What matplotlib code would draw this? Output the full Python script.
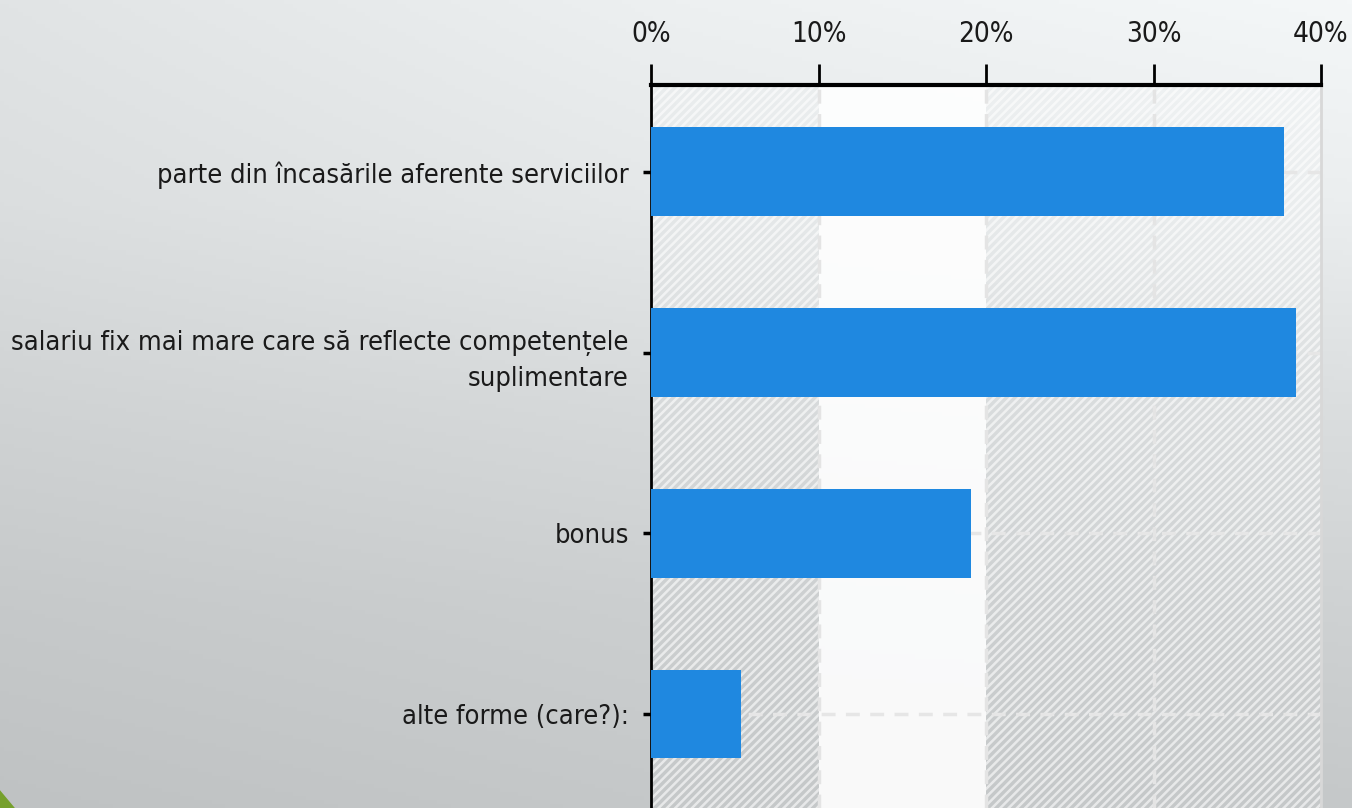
import numpy as np
import matplotlib
matplotlib.use("Agg")
import matplotlib.pyplot as plt
from matplotlib.patches import Polygon

# --- Data ---
categories = [
    "parte din încasările aferente serviciilor",
    "salariu fix mai mare care să reflecte competențele\nsuplimentare",
    "bonus",
    "alte forme (care?):",
]
values = [37.8, 38.5, 19.1, 5.4]
xticks = [0, 10, 20, 30, 40]
xtick_labels = ["0%", "10%", "20%", "30%", "40%"]

plt.rcParams["font.family"] = ["DejaVu Sans"]
plt.rcParams["font.stretch"] = "condensed"
plt.rcParams["hatch.linewidth"] = 1.8
plt.rcParams["hatch.color"] = "white"

W, H = 1352, 808
fig = plt.figure(figsize=(W / 100, H / 100), dpi=100)

# --- background gradient: gray levels sampled at a few points of the slide ---
grad_y = [0, 0.25, 0.5, 0.75, 1]
grad_x = [0, 0.5, 1]
grad_levels = [[228, 240, 247],
               [222, 232, 238],
               [211, 218, 222],
               [201, 207, 210],
               [194, 200, 200]]
gx = np.linspace(0, 1, 300)
gy = np.linspace(0, 1, 200)
rows = np.array([np.interp(gx, grad_x, r) for r in grad_levels])
lev = np.array([np.interp(gy, grad_y, rows[:, j]) for j in range(len(gx))]).T
img = np.clip(np.dstack([lev - 3, lev, lev + 1]) / 255, 0, 1)

bg = fig.add_axes([0, 0, 1, 1], zorder=-10)
bg.imshow(img, extent=[0, 1, 0, 1], aspect="auto", origin="upper")
bg.set_xlim(0, 1)
bg.set_ylim(0, 1)
bg.axis("off")
tri = Polygon([[0, 0], [0, 0.022], [0.011, 0]], closed=True,
              facecolor="#76a02c", edgecolor="none", transform=fig.transFigure)
fig.patches.append(tri)

# --- chart ---
ax = fig.add_axes([651 / W, 0, 670 / W, 1 - 85 / H])
ax.patch.set_alpha(0)

y = np.arange(len(categories))

# bands
ax.axvspan(0, 10, facecolor="none", hatch="////", edgecolor="white", alpha=0.6, lw=0, zorder=0)
ax.axvspan(10, 20, facecolor="white", alpha=0.9, lw=0, zorder=0)
ax.axvspan(20, 40, facecolor="none", hatch="////", edgecolor="white", alpha=0.6, lw=0, zorder=0)

for xv in xticks[1:-1]:
    ax.axvline(xv, color="#e4e4e4", lw=2.5, ls=(0, (4, 3)), zorder=1)
for yv in y:
    ax.axhline(yv, color="#e6e6e6", lw=2.5, ls=(0, (4, 3)), zorder=1)

ax.barh(y, values, height=0.49, color="#1f88e0", zorder=3)

ax.set_xlim(0, 40)
ax.set_ylim(3.52, -0.48)
ax.set_yticks(y)
ax.set_yticklabels(categories, fontsize=19.5, color="#1a1a1a", linespacing=1.5)
ax.set_xticks(xticks)
ax.set_xticklabels(xtick_labels, fontsize=20, color="#1a1a1a")
ax.xaxis.tick_top()
ax.tick_params(axis="x", length=15, width=2, pad=12, color="black")
ax.tick_params(axis="y", length=6, width=2.5, pad=10, color="black")

ax.spines["top"].set_linewidth(3)
ax.spines["top"].set_color("black")
ax.spines["left"].set_linewidth(2)
ax.spines["left"].set_color("black")
ax.spines["right"].set_color("#d8d8d8")
ax.spines["right"].set_linewidth(2)
ax.spines["bottom"].set_visible(False)

fig.savefig("out.png", dpi=100)
